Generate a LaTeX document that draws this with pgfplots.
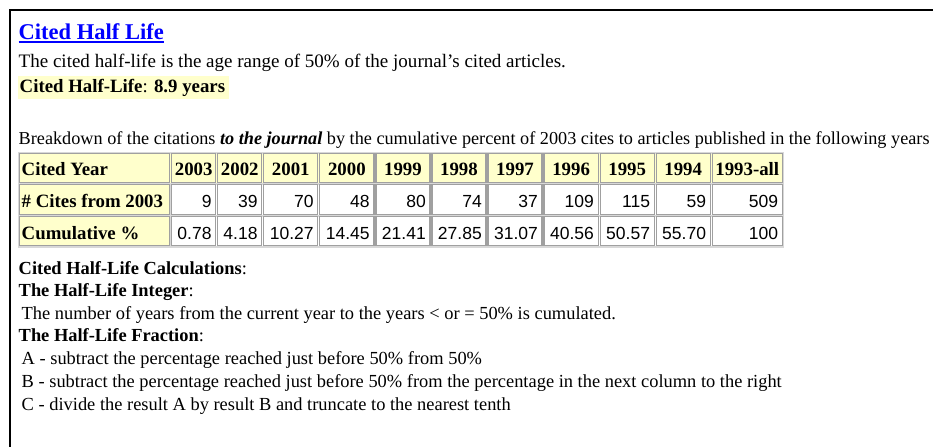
\documentclass[border=0pt]{standalone}
\usepackage{pgfplots}
\usepackage{pgfplotstable}
\pgfplotsset{compat=1.18}
\usepackage{fontspec}
\setmainfont{Liberation Serif}
\newfontfamily\numfont{Liberation Sans}
\definecolor{hl}{HTML}{FFFFCC}
\definecolor{cellb}{HTML}{A0A0A0}
\definecolor{tabbg}{HTML}{D8D8D8}
\definecolor{linkblue}{HTML}{0000FF}
\newcommand\bodyfont{\fontsize{18.8}{22}\selectfont}
\newcommand\lowfont{\fontsize{18.4}{22}\selectfont}

\pgfplotstableread{
x y label
194 176 2003
240 176 2002
291 176 2001
347 176 2000
403 176 1999
459 176 1998
515 176 1997
571 176 1996
627 176 1995
683 176 1994
747 176 1993-all
}\headtab

\pgfplotstableread{
x y label
212 208 9
258 208 39
314 208 70
370 208 48
426 208 80
482 208 74
538 208 37
594 208 109
650 208 115
706 208 59
778 208 509
}\citestab

\pgfplotstableread{
x y label
212 240 0.78
258 240 4.18
314 240 10.27
370 240 14.45
426 240 21.41
482 240 27.85
538 240 31.07
594 240 40.56
650 240 50.57
706 240 55.70
778 240 100
}\cumtab

\begin{document}
\begin{tikzpicture}
\begin{axis}[hide axis, scale only axis, width=933pt, height=447pt,
  xmin=0, xmax=933, ymin=0, ymax=447, y dir=reverse, clip=false]
% background and frame
\fill[white] (-8,-8) rectangle (941,455);
\coordinate (tl) at (0.5,0.5);
\coordinate (br) at (932.5,446.5);
\fill[black] (9,9) rectangle (941,11);
\fill[black] (9,9) rectangle (11,455);

% title
\node[anchor=base west, inner sep=0, text=linkblue, font=\fontsize{22.5}{26}\selectfont\bfseries] (t) at (19,40) {Cited Half Life};
\draw[linkblue, line width=1.8pt] ([yshift=-2.6pt]t.base west) -- ([yshift=-2.6pt]t.base east);

\node[anchor=base west, inner sep=0, font=\fontsize{19}{22}\selectfont] at (19,68) {The cited half-life is the age range of 50\% of the journal's cited articles.};

\fill[hl] (18,76) rectangle (229,99);
\node[anchor=base west, inner sep=0, font=\bodyfont] at (20,93) {\textbf{Cited Half-Life}: \textbf{8.9 years}};

\node[anchor=base west, inner sep=0, font=\fontsize{18.2}{22}\selectfont] at (19,145) {Breakdown of the citations \textbf{\textit{to the journal}} by the cumulative percent of 2003 cites to articles published in the following years};

% table
\fill[tabbg] (18,152) rectangle (784,248);
\fill[hl] (20,154) rectangle (782,183);
\fill[hl] (20,185) rectangle (170,215);
\fill[hl] (20,217) rectangle (170,246);
\fill[white] (172,185) rectangle (782,215);
\fill[white] (172,217) rectangle (782,246);
\foreach \a/\b in {20/170,172/216,218/262,264/318,320/374,376/430,432/486,488/542,544/598,600/654,656/710,712/782}{
  \edef\temp{\noexpand\draw[cellb, line width=1.2pt] (\a,154) rectangle (\b,183);
    \noexpand\draw[cellb, line width=1.2pt] (\a,185) rectangle (\b,215);
    \noexpand\draw[cellb, line width=1.2pt] (\a,217) rectangle (\b,246);}
  \temp
}
\node[anchor=base west, inner sep=0, font=\bodyfont\bfseries] at (22,176) {Cited Year};
\node[anchor=base west, inner sep=0, font=\bodyfont\bfseries] at (22,208) {\# Cites from 2003};
\node[anchor=base west, inner sep=0, font=\bodyfont\bfseries] at (22,240) {Cumulative \%};

\addplot[draw=none, nodes near coords, point meta=explicit symbolic,
  every node near coord/.append style={anchor=base, inner sep=0, font=\bodyfont\bfseries}]
  table[x=x, y=y, meta=label] {\headtab};
\addplot[draw=none, nodes near coords, point meta=explicit symbolic,
  every node near coord/.append style={anchor=base east, inner sep=0, font=\fontsize{17.5}{20}\selectfont\numfont}]
  table[x=x, y=y, meta=label] {\citestab};
\addplot[draw=none, nodes near coords, point meta=explicit symbolic,
  every node near coord/.append style={anchor=base east, inner sep=0, font=\fontsize{17.5}{20}\selectfont\numfont}]
  table[x=x, y=y, meta=label] {\cumtab};

% calculations
\node[anchor=base west, inner sep=0, font=\lowfont] at (19,274.5) {\textbf{Cited Half-Life Calculations}:};
\node[anchor=base west, inner sep=0, font=\lowfont] at (19,297) {\textbf{The Half-Life Integer}:};
\node[anchor=base west, inner sep=0, font=\lowfont] at (22,319.5) {The number of years from the current year to the years < or = 50\% is cumulated.};
\node[anchor=base west, inner sep=0, font=\lowfont] at (19,342) {\textbf{The Half-Life Fraction}:};
\node[anchor=base west, inner sep=0, font=\lowfont] at (22,364.5) {A - subtract the percentage reached just before 50\% from 50\%};
\node[anchor=base west, inner sep=0, font=\lowfont] at (22,387.5) {B - subtract the percentage reached just before 50\% from the percentage in the next column to the right};
\node[anchor=base west, inner sep=0, font=\lowfont] at (22,410.5) {C - divide the result A by result B and truncate to the nearest tenth};
\end{axis}
\pgfresetboundingbox
\path[use as bounding box] (tl) rectangle (br);
\end{tikzpicture}
\end{document}
